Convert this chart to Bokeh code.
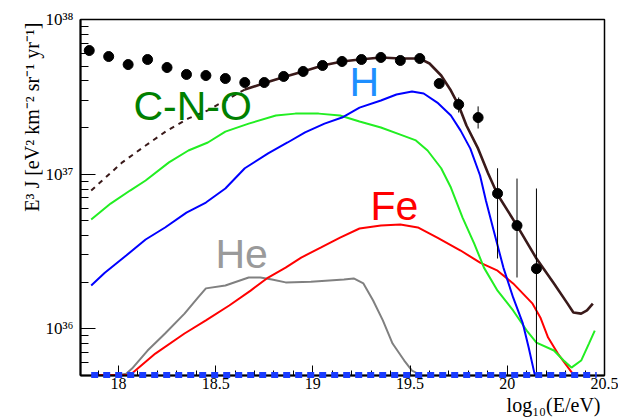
import math
from bokeh.plotting import figure
from bokeh.models import (Range1d, FixedTicker, SingleIntervalTicker,
                          CustomJSTickFormatter, Label, Title)
from bokeh.embed import file_html
from bokeh.resources import INLINE

# ---- measured spectrum (log10 E/eV, E^3 J) ----
data_logE = [17.85, 17.95, 18.05, 18.15, 18.25, 18.35, 18.45, 18.55, 18.65, 18.75,
             18.85, 18.95, 19.05, 19.15, 19.25, 19.35, 19.45, 19.55, 19.65, 19.75,
             19.85, 19.95, 20.05, 20.15]
data_flux = [6.30e37, 5.76e37, 5.11e37, 5.51e37, 4.89e37, 4.41e37, 4.34e37, 4.15e37,
             3.91e37, 3.91e37, 4.28e37, 4.61e37, 5.04e37, 5.35e37, 5.51e37, 5.68e37,
             5.43e37, 5.59e37, 3.85e37, 2.82e37, 2.32e37, 7.48e36, 4.64e36, 2.44e36]

err_logE = [19.75, 19.85, 19.95, 20.05, 20.15]
err_lo = [2.50e37, 1.97e37, 2.84e36, 2.14e36, 1.0e35]
err_hi = [3.13e37, 2.74e37, 1.09e37, 9.35e36, 8.06e36]

# ---- total fit ----
fit_logE = [18.65, 18.76, 18.86, 18.95, 19.05, 19.15, 19.24, 19.35, 19.45, 19.55,
            19.60, 19.66, 19.71, 19.75, 19.79, 19.85, 19.90, 19.95, 20.05, 20.15,
            20.24, 20.31, 20.34, 20.38, 20.41, 20.44]
fit_flux = [3.52e37, 3.91e37, 4.28e37, 4.61e37, 5.04e37, 5.35e37, 5.51e37, 5.68e37,
            5.59e37, 5.59e37, 5.19e37, 4.34e37, 3.47e37, 2.78e37, 2.06e37, 1.46e37,
            1.02e37, 7.37e36, 4.64e36, 2.84e36, 1.96e36, 1.45e36, 1.27e36, 1.25e36,
            1.31e36, 1.45e36]

# ---- extrapolation below fit range (dashed) ----
ext_logE = [17.86, 18.02, 18.14, 18.25, 18.36, 18.46, 18.53, 18.65]
ext_flux = [7.82e36, 1.19e37, 1.53e37, 1.91e37, 2.29e37, 2.58e37, 2.90e37, 3.52e37]

# ---- C-N-O component ----
cno_logE = [17.86, 17.96, 18.06, 18.14, 18.26, 18.36, 18.46, 18.55, 18.67, 18.81,
            18.91, 19.03, 19.14, 19.24, 19.35, 19.45, 19.53, 19.59, 19.66, 19.71,
            19.77, 19.83, 19.88, 19.95, 20.03, 20.10, 20.15, 20.24, 20.29, 20.33,
            20.38, 20.42, 20.45]
cno_flux = [5.08e36, 6.44e36, 7.82e36, 9.08e36, 1.19e37, 1.42e37, 1.60e37, 1.88e37,
            2.12e37, 2.39e37, 2.46e37, 2.46e37, 2.39e37, 2.19e37, 2.00e37, 1.80e37,
            1.65e37, 1.42e37, 1.09e37, 8.18e36, 5.23e36, 3.55e36, 2.48e36, 1.76e36,
            1.31e36, 9.71e35, 8.12e35, 7.21e35, 6.21e35, 5.59e35, 6.21e35, 8.00e35,
            9.71e35]

# ---- H component ----
h_logE = [17.86, 17.93, 18.04, 18.14, 18.24, 18.35, 18.45, 18.55, 18.65, 18.77,
          18.87, 18.96, 19.06, 19.15, 19.24, 19.35, 19.43, 19.51, 19.57, 19.64,
          19.71, 19.76, 19.81, 19.86, 19.89, 19.93, 19.98, 20.03, 20.08, 20.11,
          20.14, 20.15]
h_flux = [1.90e36, 2.30e36, 2.97e36, 3.77e36, 4.51e36, 5.63e36, 6.54e36, 8.06e36,
          1.09e37, 1.36e37, 1.60e37, 1.86e37, 2.12e37, 2.32e37, 2.69e37, 2.99e37,
          3.27e37, 3.42e37, 3.32e37, 2.90e37, 2.39e37, 1.91e37, 1.46e37, 9.78e36,
          6.74e36, 4.31e36, 2.48e36, 1.59e36, 1.08e36, 7.54e35, 5.11e35, 5.0e35]

# ---- Fe component ----
fe_logE = [17.86, 18.06, 18.19, 18.34, 18.45, 18.57, 18.68, 18.77, 18.86, 18.94,
           19.04, 19.14, 19.24, 19.35, 19.45, 19.54, 19.64, 19.76, 19.86, 19.95,
           20.03, 20.13, 20.17, 20.21, 20.26, 20.34]
fe_flux = [5.0e35, 5.0e35, 6.89e35, 9.29e35, 1.13e36, 1.41e36, 1.76e36, 2.14e36,
           2.48e36, 2.88e36, 3.34e36, 3.88e36, 4.44e36, 4.64e36, 4.71e36, 4.51e36,
           3.88e36, 3.20e36, 2.67e36, 2.37e36, 1.96e36, 1.45e36, 1.18e36, 8.75e35,
           6.89e35, 5.04e35]

# ---- He component ----
he_logE = [17.86, 18.00, 18.04, 18.07, 18.15, 18.24, 18.34, 18.41, 18.45, 18.55,
           18.67, 18.73, 18.79, 18.86, 18.99, 19.16, 19.21, 19.26, 19.31, 19.36,
           19.41, 19.47, 19.51, 19.55]
he_flux = [5.0e35, 5.0e35, 5.11e35, 5.51e35, 7.21e35, 9.29e35, 1.25e36, 1.59e36,
           1.82e36, 1.90e36, 2.14e36, 2.14e36, 2.08e36, 1.99e36, 2.01e36, 2.08e36,
           2.11e36, 1.96e36, 1.52e36, 1.13e36, 8.00e35, 6.21e35, 5.35e35, 5.04e35]

# ---- vanishing component drawn on the floor ----
base_logE = [17.86, 20.46]
base_flux = [5.0e35, 5.0e35]

y_ticks = [1e36, 1e37, 1e38]
x_tick_step = 0.5
x_title = "log\u2081\u2080(E/eV)"
y_title = "E\u00b3 J [eV\u00b2 km\u207b\u00b2 sr\u207b\u00b9 yr\u207b\u00b9]"

p = figure(width=618, height=420,
           x_range=Range1d(17.805, 20.5), y_range=Range1d(4.97e35, 1e38),
           y_axis_type="log", output_backend="svg", toolbar_location=None,
           min_border_left=80, min_border_right=14, min_border_top=19,
           min_border_bottom=45)
p.xgrid.visible = False
p.ygrid.visible = False
p.background_fill_color = "white"
p.border_fill_color = "white"
p.outline_line_color = "black"
p.outline_line_width = 1.5
p.outline_line_alpha = 1.0

xa = p.xaxis[0]
xa.ticker = SingleIntervalTicker(interval=x_tick_step, num_minor_ticks=5)
xa.formatter = CustomJSTickFormatter(code="return String(Math.round(tick*10)/10);")
ya = p.yaxis[0]
minor = []
for e in (35, 36, 37):
    for k in range(2, 10):
        minor.append(k * 10.0 ** e)
ya.ticker = FixedTicker(ticks=y_ticks, minor_ticks=minor)
ya.formatter = CustomJSTickFormatter(code="""
const e = Math.round(Math.log10(tick));
const m = {"0":"\u2070","1":"\u00b9","2":"\u00b2","3":"\u00b3","4":"\u2074","5":"\u2075","6":"\u2076","7":"\u2077","8":"\u2078","9":"\u2079","-":"\u207b"};
return "10" + String(e).split("").map(c => m[c]).join("");
""")

for ax in (xa, ya):
    ax.axis_line_color = "black"
    ax.axis_line_width = 2
    ax.major_tick_out = 0
    ax.minor_tick_out = 0
    ax.major_tick_line_color = "black"
    ax.minor_tick_line_color = "black"
    ax.major_label_text_font = "Liberation Serif"
    ax.major_label_text_color = "black"
xa.major_tick_in = 10
xa.minor_tick_in = 5
xa.major_label_text_font_size = "16px"
xa.major_label_standoff = 2
ya.major_tick_in = 15
ya.minor_tick_in = 8
ya.major_label_text_font_size = "17px"
ya.major_label_standoff = 7

# axis titles, right/top aligned as in the original
p.add_layout(Title(text=y_title, align="right", text_font="Liberation Serif",
                   text_font_size="20px", text_font_style="normal", text_color="black",
                   standoff=0, offset=3), "left")
p.add_layout(Title(text=x_title, align="right", text_font="Liberation Serif",
                   text_font_size="20px", text_font_style="normal", text_color="black",
                   standoff=0, offset=4), "below")

# components
p.line(he_logE, he_flux, line_color="#808080", line_width=2)
p.line(fe_logE, fe_flux, line_color="#ff0000", line_width=2)
p.line(cno_logE, cno_flux, line_color="#22ee22", line_width=2)
p.line(h_logE, h_flux, line_color="#0000ff", line_width=2)
# total
p.line(ext_logE, ext_flux, line_color="#3a1a1a", line_width=2, line_dash="5 5")
p.line(fit_logE, fit_flux, line_color="#3a1a1a", line_width=2.6)
# data
p.segment(x0=err_logE, y0=err_lo, x1=err_logE, y1=err_hi, line_color="black", line_width=1)
p.scatter(data_logE, data_flux, size=10, fill_color="black", line_color="black")
# floor component
p.line(base_logE, base_flux, line_color="#1a3cff", line_width=6, line_dash="7 5",
       level="overlay")

# component labels
lab_font = "Liberation Sans"
p.add_layout(Label(x=18.077, y=2.77e37, text="C-N-O", text_color="#008000",
                   text_font=lab_font, text_font_size="41px", text_baseline="alphabetic"))
p.add_layout(Label(x=19.188, y=3.92e37, text="H", text_color="#1e8fff",
                   text_font=lab_font, text_font_size="41px", text_baseline="alphabetic"))
p.add_layout(Label(x=19.296, y=6.25e36, text="Fe", text_color="#ff0000",
                   text_font=lab_font, text_font_size="41px", text_baseline="alphabetic"))
p.add_layout(Label(x=18.499, y=3.05e36, text="He", text_color="#9a9a9a",
                   text_font=lab_font, text_font_size="41px", text_baseline="alphabetic"))

open("out.html", "w").write(file_html(p, INLINE))
